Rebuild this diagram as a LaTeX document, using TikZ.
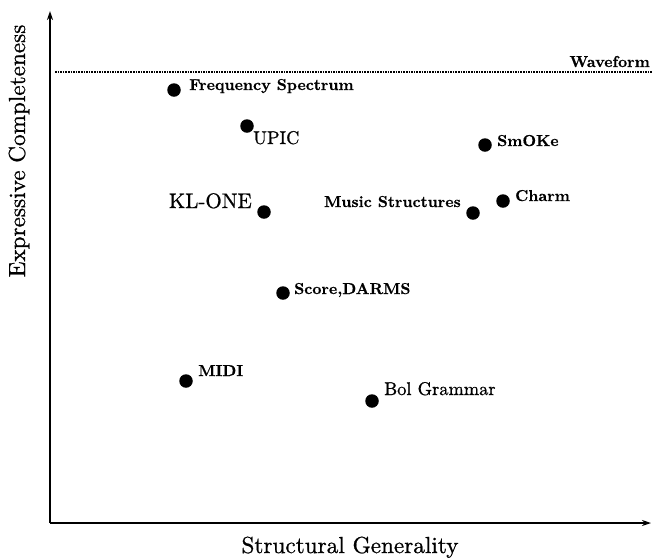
\documentclass[tikz,border=0pt]{standalone}
\usepackage{fontspec}
\newfontfamily\rmten{lmroman10-regular.otf}[FakeBold=0.8]
\newfontfamily\bften{lmroman10-bold.otf}[FakeBold=0.5]
\usetikzlibrary{arrows.meta}
\begin{document}
\begin{tikzpicture}[x=1pt,y=-1pt,
  dot/.style={circle,fill=black,inner sep=0pt,minimum size=13.5pt},
  blab/.style={inner sep=0pt,font=\bften\fontsize{15.8}{18}\selectfont},
  rlab/.style={inner sep=0pt,font=\rmten\fontsize{18.4}{21}\selectfont},
  biglab/.style={inner sep=0pt,font=\rmten\fontsize{21}{24}\selectfont},
  axlab/.style={inner sep=0pt,font=\rmten\fontsize{23.2}{26}\selectfont},
  axis/.style={line width=1.5pt,-{Stealth[length=9pt,width=6pt]}}]
\useasboundingbox (0,0) rectangle (653,558);
% axes
\coordinate (O) at (50,523);
\coordinate (X) at (651,523);
\coordinate (Y) at (50,11);
\draw[axis] (O) -- (X);
\draw[axis] (O) -- (Y);
% waveform line
\coordinate (w1) at (55,72);
\coordinate (w2) at (653,72);
\draw[line width=1.3pt,dash pattern=on 1.6pt off 1pt] (w1) -- (w2);
\node[blab,anchor=base east] (wave) at (650,67) {Waveform};
% axis labels
\node[axlab,anchor=base] (xl) at (350,553) {Structural Generality};
\node[axlab,anchor=base,rotate=90] (yl) at (25,151) {Expressive Completeness};
% points
\node[dot] (fs) at (174,90) {};
\node[blab,anchor=base west] (fsl) at (189,90) {Frequency Spectrum};
\node[dot] (upic) at (247,126) {};
\node[rlab,anchor=base west] (upicl) at (253,144) {UPIC};
\node[dot] (kl) at (264,212) {};
\node[biglab,anchor=base east] (kll) at (252,208) {KL-ONE};
\node[dot] (smoke) at (485,145) {};
\node[blab,anchor=base west] (smokel) at (497,146) {SmOKe};
\node[dot] (ms) at (473,213) {};
\node[blab,anchor=base east] (msl) at (461,207) {Music Structures};
\node[dot] (charm) at (503,201) {};
\node[blab,anchor=base west] (charml) at (515,201) {Charm};
\node[dot] (score) at (283,293) {};
\node[blab,anchor=base west] (scorel) at (294,294) {Score,DARMS};
\node[dot] (midi) at (186,381) {};
\node[blab,anchor=base west] (midil) at (198,376) {MIDI};
\node[dot] (bol) at (372,401) {};
\node[rlab,anchor=base west] (boll) at (384,395) {Bol Grammar};
\end{tikzpicture}
\end{document}
